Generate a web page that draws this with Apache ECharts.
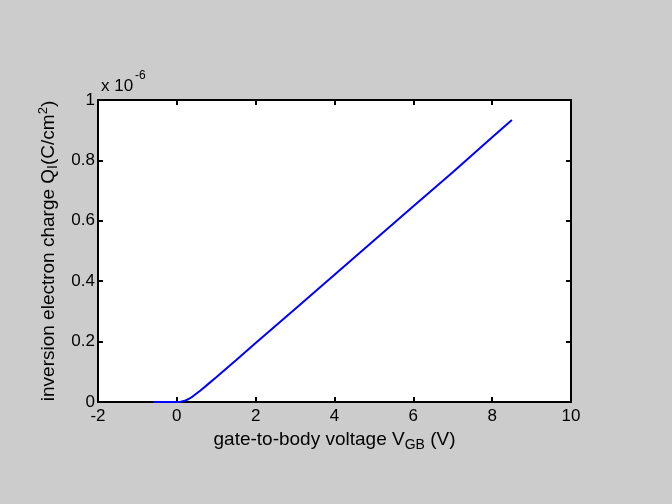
<!DOCTYPE html>
<html><head><meta charset="utf-8">
<script src="https://cdn.jsdelivr.net/npm/echarts@6/dist/echarts.min.js"></script>
<style>html,body{margin:0;padding:0;background:#cccccc}#c{width:672px;height:504px}</style>
</head><body><div id="c"></div>
<script>
// gate-to-body voltage V_GB (V)
const vgb = [-0.6, -0.4, -0.2, 0.0, 0.1, 0.2, 0.3, 0.4, 0.5, 0.6, 0.8, 1.0, 1.5, 2.0, 3.0, 4.0, 5.0, 6.0, 7.0, 8.0, 8.5];
// inversion electron charge (x 1e-6 C/cm^2)
const qi = [0, 0, 0, 0.0003, 0.001, 0.004, 0.01, 0.018, 0.028, 0.038, 0.06, 0.082, 0.138, 0.195, 0.308, 0.421, 0.535, 0.648, 0.761, 0.877, 0.934];
const xTicks = [-2, 0, 2, 4, 6, 8, 10];
const yTicks = [0, 0.2, 0.4, 0.6, 0.8, 1];

const font = 'Liberation Sans, Arial, Helvetica, sans-serif';
const chart = echarts.init(document.getElementById('c'));
const axisCommon = {
  axisLine: {show: true, onZero: false, lineStyle: {color: '#000', width: 2}},
  axisTick: {show: true, inside: true, length: 5, lineStyle: {color: '#000', width: 2}},
  splitLine: {show: false}
};
chart.setOption({
  backgroundColor: '#cccccc',
  animation: false,
  textStyle: {fontFamily: font},
  grid: {left: 98, right: 101, top: 100, bottom: 102, show: true, backgroundColor: '#ffffff', borderWidth: 0},
  xAxis: [
    Object.assign({type: 'value', min: xTicks[0], max: xTicks[xTicks.length - 1], interval: 2, position: 'bottom',
      axisLabel: {color: '#000', fontSize: 17, margin: 6, fontFamily: font},
      name: '{m|gate-to-body voltage V}{s|GB}{m| (V)}', nameLocation: 'middle', nameGap: 26,
      nameTextStyle: {rich: {
        m: {fontSize: 19, color: '#000', fontFamily: font, lineHeight: 24, verticalAlign: 'middle'},
        s: {fontSize: 14, color: '#000', fontFamily: font, lineHeight: 14, verticalAlign: 'bottom'}
      }}
    }, axisCommon),
    Object.assign({type: 'value', min: xTicks[0], max: xTicks[xTicks.length - 1], interval: 2, position: 'top', axisLabel: {show: false}}, axisCommon)
  ],
  yAxis: [
    Object.assign({type: 'value', min: yTicks[0], max: yTicks[yTicks.length - 1], interval: 0.2, position: 'left',
      axisLabel: {color: '#000', fontSize: 17, margin: 3, fontFamily: font, formatter: v => String(+v.toFixed(1))},
      name: '{m|inversion electron charge Q}{s|I}{m|(C/cm}{p|2}{m|)}', nameLocation: 'middle', nameGap: 30,
      nameTextStyle: {rich: {
        m: {fontSize: 19, color: '#000', fontFamily: font, lineHeight: 24, verticalAlign: 'middle'},
        s: {fontSize: 14, color: '#000', fontFamily: font, lineHeight: 14, verticalAlign: 'bottom'},
        p: {fontSize: 13, color: '#000', fontFamily: font, lineHeight: 13, verticalAlign: 'top'}
      }}
    }, axisCommon),
    Object.assign({type: 'value', min: yTicks[0], max: yTicks[yTicks.length - 1], interval: 0.2, position: 'right', axisLabel: {show: false}}, axisCommon)
  ],
  graphic: [
    {type: 'text', left: 101, top: 78, style: {text: 'x 10', fill: '#000', font: '17px ' + font}},
    {type: 'text', left: 135, top: 70, style: {text: '-6', fill: '#000', font: '12px ' + font}}
  ],
  series: [{
    type: 'line', data: vgb.map((v, i) => [v, qi[i]]), showSymbol: false, symbol: 'none',
    lineStyle: {color: '#0000ff', width: 2}, xAxisIndex: 0, yAxisIndex: 0
  }]
});
</script></body></html>
